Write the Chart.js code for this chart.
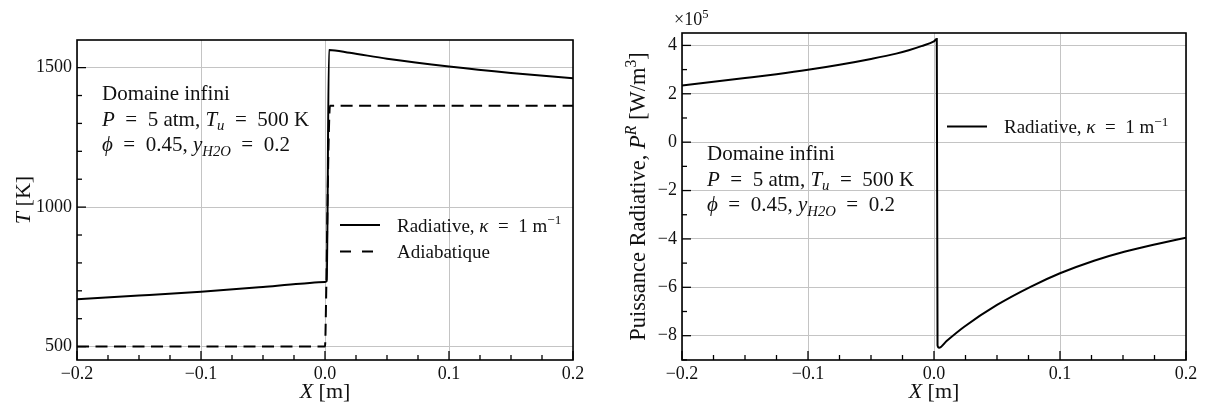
<!DOCTYPE html>
<html>
<head>
<meta charset="utf-8">
<script src="https://cdn.jsdelivr.net/npm/chart.js@4.4.0/dist/chart.umd.min.js"></script>
<style>
  body { margin: 0; background: #fff; width: 1207px; height: 407px; overflow: hidden; position: relative; }
  canvas { position: absolute; top: 0; }
  #tempChart { left: 0; }
  #powerChart { left: 603px; }
</style>
</head>
<body>
<canvas id="tempChart" width="600" height="407"></canvas>
<canvas id="powerChart" width="604" height="407"></canvas>
<script>
// temperature, radiative flame (kappa = 1 m^-1)
const xRadiative = [-0.2, -0.15, -0.1, -0.05, -0.02, 0.0, 0.0014, 0.0032, 0.02, 0.05, 0.1, 0.15, 0.2]
const tRadiative = [670, 683, 697, 714, 725, 732, 735, 1563, 1553, 1532, 1504, 1481, 1462]
// temperature, adiabatic flame
const xAdiabatic = [-0.2, 0.0, 0.001, 0.002, 0.003, 0.004, 0.2]
const tAdiabatic = [500, 500, 700, 1000, 1250, 1363, 1363]
// radiative power P^R [W/m3]
const xPower = [-0.2, -0.15, -0.125, -0.1, -0.075, -0.05, -0.03, -0.02, -0.01, 0.0, 0.0022, 0.0028, 0.004, 0.01, 0.024, 0.05, 0.077, 0.1, 0.127, 0.151, 0.177, 0.2]
const pPower = [234000, 265000, 281000, 299000, 320000, 344000, 366000, 380000, 397000, 417000, 426000, -840000, -850000, -822000, -763000, -673000, -597000, -542000, -490000, -453000, -421000, -395000]

const xTicks = [-0.2, -0.1, 0, 0.1, 0.2]
const tTicks = [500, 1000, 1500]
const pTicks = [-800000, -600000, -400000, -200000, 0, 200000, 400000]
const xMinorStep = 0.025
const tMinorStep = 100
const pMinorStep = 100000

const FONT = '"Liberation Serif", "DejaVu Serif", serif'
const EQ = '\u2002=\u2002'

const toPoints = (xs, ys) => xs.map((x, i) => ({ x: x, y: ys[i] }))
const fmtX = v => (v < -1e-9 ? '\u2212' : '') + Math.abs(v).toFixed(1)
const fmtP = v => { const n = Math.round(v / 1e5); return (n < 0 ? '\u2212' : '') + Math.abs(n) }

// text made of roman / italic / sub / sup pieces
const fontFor = function (st, size) {
  const small = st.startsWith('sup') || st.startsWith('sub')
  const it = st === 'i' || st.endsWith('i')
  return (it ? 'italic ' : '') + (small ? size * 0.7 : size).toFixed(1) + 'px ' + FONT
}
const drawRich = function (ctx, parts, x, y, size, align) {
  let w = 0
  parts.forEach(p => { ctx.font = fontFor(p[1], size); w += ctx.measureText(p[0]).width })
  let cx = align === 'center' ? x - w / 2 : x
  ctx.textAlign = 'left'
  ctx.textBaseline = 'alphabetic'
  parts.forEach(p => {
    ctx.font = fontFor(p[1], size)
    let dy = 0
    if (p[1].startsWith('sup')) dy = -size * 0.38
    if (p[1].startsWith('sub')) dy = size * 0.22
    ctx.fillText(p[0], cx, y + dy)
    cx += ctx.measureText(p[0]).width
  })
}

const caseText = [
  [['Domaine infini', 'r']],
  [['P', 'i'], [EQ + '5 atm, ', 'r'], ['T', 'i'], ['u', 'subi'], [EQ + '500 K', 'r']],
  [['\u03d5', 'i'], [EQ + '0.45, ', 'r'], ['y', 'i'], ['H2O', 'subi'], [EQ + '0.2', 'r']]
]
const radLabel = [['Radiative, ', 'r'], ['\u03ba', 'i'], [EQ + '1 m', 'r'], ['\u22121', 'sup']]
const adiLabel = [['Adiabatique', 'r']]

const minorValues = function (min, max, step, majors) {
  const out = []
  for (let v = Math.ceil(min / step) * step; v <= max + 1e-9; v += step) {
    if (!majors.some(m => Math.abs(m - v) < step * 1e-3)) out.push(v)
  }
  return out
}

// frame, inward ticks, legend, annotations and axis titles
const overlay = {
  id: 'overlay',
  afterDraw (chart, args, opts) {
    const ctx = chart.ctx
    const a = chart.chartArea
    const xs = chart.scales.x
    const ys = chart.scales.y
    ctx.save()
    ctx.strokeStyle = '#000'
    ctx.fillStyle = '#111'
    ctx.lineWidth = 1.3
    const tick = (px, py, dx, dy) => { ctx.beginPath(); ctx.moveTo(px, py); ctx.lineTo(px + dx, py + dy); ctx.stroke() }
    xTicks.forEach(v => tick(xs.getPixelForValue(v), a.bottom, 0, -9))
    minorValues(xs.min, xs.max, xMinorStep, xTicks).forEach(v => tick(xs.getPixelForValue(v), a.bottom, 0, -5))
    opts.yMajor.forEach(v => tick(a.left, ys.getPixelForValue(v), 9, 0))
    minorValues(ys.min, ys.max, opts.yMinorStep, opts.yMajor).forEach(v => tick(a.left, ys.getPixelForValue(v), 5, 0))
    ctx.lineWidth = 1.6
    ctx.strokeRect(a.left, a.top, a.right - a.left, a.bottom - a.top)

    // legend
    opts.legend.forEach(item => {
      ctx.lineWidth = 2
      ctx.setLineDash(item.dash)
      ctx.beginPath()
      ctx.moveTo(item.x, item.y)
      ctx.lineTo(item.x + 40, item.y)
      ctx.stroke()
      ctx.setLineDash([])
      drawRich(ctx, item.text, item.x + 57, item.y + 6.5, 19)
    })

    // case description
    caseText.forEach((line, i) => drawRich(ctx, line, opts.noteX, opts.noteY + i * 25.5, 21))

    // axis titles
    drawRich(ctx, [['X', 'i'], [' [m]', 'r']], (a.left + a.right) / 2, 398, 22, 'center')
    ctx.save()
    ctx.translate(opts.yTitleX, (a.top + a.bottom) / 2)
    ctx.rotate(-Math.PI / 2)
    drawRich(ctx, opts.yTitle, 0, 0, opts.yTitleSize, 'center')
    ctx.restore()
    if (opts.offset) drawRich(ctx, opts.offset, opts.offset.x, opts.offset.y, 18)
    ctx.restore()
  }
}

const baseScales = function (yMin, yMax, yTickValues, yFmt, yWidth) {
  return {
    x: {
      type: 'linear',
      min: -0.2,
      max: 0.2,
      afterBuildTicks: s => { s.ticks = xTicks.map(v => ({ value: v })) },
      afterFit: s => { s.height = 47 },
      ticks: { callback: fmtX, padding: 3, maxRotation: 0, autoSkip: false, color: '#111', font: { family: FONT, size: 18 } },
      grid: { color: '#c4c4c4', lineWidth: 1, drawTicks: false },
      border: { display: false }
    },
    y: {
      type: 'linear',
      min: yMin,
      max: yMax,
      afterBuildTicks: s => { s.ticks = yTickValues.map(v => ({ value: v })) },
      afterFit: s => { s.width = yWidth },
      ticks: { callback: yFmt, padding: 5, autoSkip: false, color: '#111', font: { family: FONT, size: 18 } },
      grid: { color: '#c4c4c4', lineWidth: 1, drawTicks: false },
      border: { display: false }
    }
  }
}

const lineStyle = { borderColor: '#000', borderWidth: 2, pointRadius: 0, fill: false, tension: 0, cubicInterpolationMode: 'monotone' }

new Chart(document.getElementById('tempChart'), {
  type: 'line',
  data: {
    datasets: [
      Object.assign({ label: 'Radiative', data: toPoints(xRadiative, tRadiative) }, lineStyle),
      Object.assign({ label: 'Adiabatique', data: toPoints(xAdiabatic, tAdiabatic), borderDash: [12, 6.5] }, lineStyle)
    ]
  },
  options: {
    responsive: false,
    animation: false,
    layout: { padding: { top: 40, right: 27, left: 0, bottom: 0 } },
    scales: baseScales(452, 1599, tTicks, v => String(v), 77),
    plugins: {
      legend: { display: false },
      tooltip: { enabled: false },
      overlay: {
        yMajor: tTicks,
        yMinorStep: tMinorStep,
        legend: [
          { x: 340, y: 225, dash: [], text: radLabel },
          { x: 340, y: 251.5, dash: [11, 11], text: adiLabel }
        ],
        noteX: 102,
        noteY: 100,
        yTitleX: 30,
        yTitleSize: 22,
        yTitle: [['T', 'i'], [' [K]', 'r']]
      }
    }
  },
  plugins: [overlay]
})

new Chart(document.getElementById('powerChart'), {
  type: 'line',
  data: {
    datasets: [
      Object.assign({ label: 'Radiative', data: toPoints(xPower, pPower) }, lineStyle)
    ]
  },
  options: {
    responsive: false,
    animation: false,
    layout: { padding: { top: 33, right: 21, left: 0, bottom: 0 } },
    scales: baseScales(-900500, 451300, pTicks, fmtP, 79),
    plugins: {
      legend: { display: false },
      tooltip: { enabled: false },
      overlay: {
        yMajor: pTicks,
        yMinorStep: pMinorStep,
        legend: [
          { x: 344, y: 126.5, dash: [], text: radLabel }
        ],
        noteX: 104,
        noteY: 160,
        yTitleX: 42,
        yTitleSize: 22.5,
        yTitle: [['Puissance Radiative, ', 'r'], ['P', 'i'], ['R', 'supi'], [' [W/m', 'r'], ['3', 'sup'], [']', 'r']],
        offset: Object.assign([['\u00d710', 'r'], ['5', 'sup']], { x: 71, y: 25 })
      }
    }
  },
  plugins: [overlay]
})
</script>
</body>
</html>
